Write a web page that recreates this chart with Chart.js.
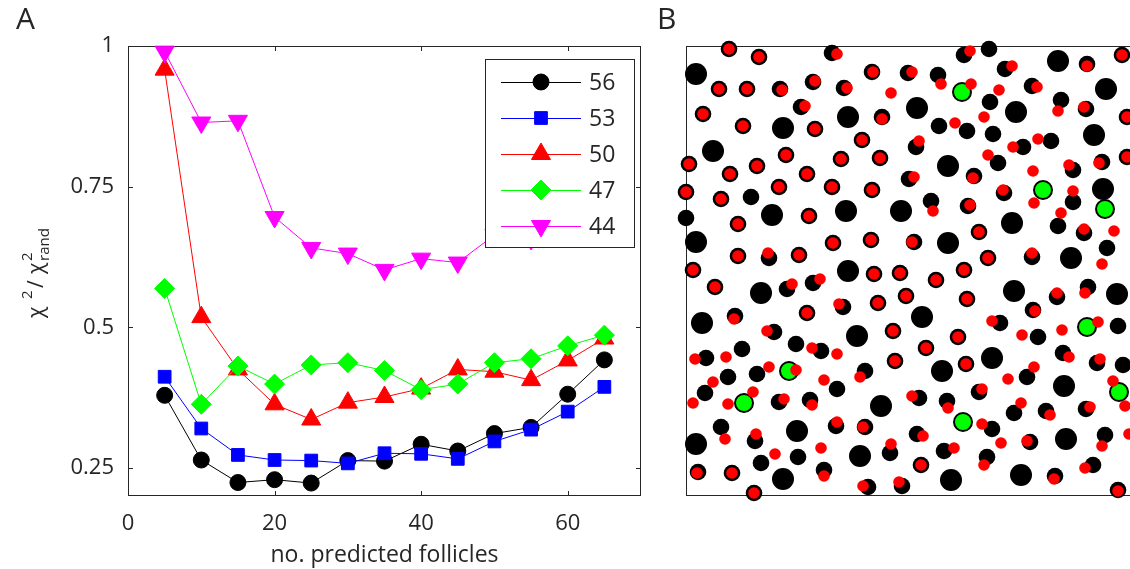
<!DOCTYPE html>
<html>
<head>
<meta charset="utf-8">
<script src="https://cdn.jsdelivr.net/npm/chart.js@4/dist/chart.umd.min.js"></script>
<style>
    html, body { margin: 0; padding: 0; background: #fff; }
    body { width: 1130px; height: 569px; overflow: hidden; position: relative; }
    #chartA { position: absolute; left: 0; top: 0; }
    #chartB { position: absolute; left: 640px; top: 0; }
</style>
</head>
<body>
<canvas id="chartA" width="660" height="569"></canvas>
<canvas id="chartB" width="510" height="569"></canvas>
<script>
// Panel A data
const follicles = [5, 10, 15, 20, 25, 30, 35, 40, 45, 50, 55, 60, 65];
const ratio56 = [0.379, 0.264, 0.224, 0.229, 0.223, 0.263, 0.262, 0.292, 0.280, 0.311, 0.322, 0.381, 0.442];
const ratio53 = [0.412, 0.320, 0.273, 0.264, 0.263, 0.258, 0.276, 0.275, 0.266, 0.297, 0.318, 0.350, 0.394];
const ratio50 = [0.958, 0.518, 0.425, 0.363, 0.336, 0.366, 0.376, 0.391, 0.425, 0.421, 0.406, 0.441, 0.480];
const ratio47 = [0.569, 0.363, 0.431, 0.399, 0.433, 0.437, 0.423, 0.389, 0.399, 0.437, 0.444, 0.467, 0.486];
const ratio44 = [0.990, 0.864, 0.867, 0.696, 0.641, 0.631, 0.602, 0.622, 0.615, 0.664, 0.657, 0.680, 0.700];
const seriesNames = ['56', '53', '50', '47', '44'];
const xTicks = [0, 20, 40, 60];
const yTicks = [0.25, 0.5, 0.75, 1];

// Panel B data (field units, y measured downward from the top edge)
const largeFollicles = [
    [10, 28], [162, 71], [97, 82], [27, 105], [86, 169], [160, 165], [215, 165], [10, 196], [162, 225],
    [372, 15], [420, 43], [231, 62], [330, 66], [408, 89], [262, 120], [417, 143], [326, 177], [262, 197], [385, 212],
    [75, 247], [16, 277], [171, 290], [195, 360], [111, 385], [10, 398], [174, 410], [97, 433],
    [328, 245], [431, 248], [236, 271], [306, 312], [256, 325], [378, 340], [380, 393], [335, 429], [265, 434]
];
const smallFollicles = [
    [43, 3], [73, 11], [146, 7], [186, 26], [33, 43], [61, 43], [94, 43], [127, 36], [158, 42], [115, 61],
    [17, 68], [196, 71], [57, 80], [129, 83], [176, 94], [100, 109], [155, 113], [194, 112], [3, 118], [71, 120],
    [44, 128], [121, 128], [0, 146], [93, 141], [146, 141], [186, 144], [35, 153], [65, 151], [123, 170], [0, 172],
    [52, 178], [147, 197], [185, 194], [52, 210], [83, 212], [113, 209], [7, 224], [188, 228], [214, 227],
    [278, 9], [303, 3], [401, 18], [436, 9], [222, 27], [252, 29], [319, 23], [346, 40], [304, 56], [375, 54],
    [400, 63], [441, 71], [253, 80], [281, 85], [307, 88], [230, 101], [337, 101], [365, 95], [312, 117], [387, 124],
    [416, 116], [441, 111], [223, 133], [288, 130], [318, 147], [387, 156], [245, 155], [282, 160], [372, 180], [398, 187],
    [293, 186], [228, 196], [302, 212], [346, 211], [421, 202], [278, 224],
    [29, 241], [101, 243], [127, 237], [157, 261], [121, 267], [192, 257], [220, 250], [49, 270], [88, 286], [207, 285],
    [56, 303], [110, 298], [135, 305], [20, 312], [209, 315], [42, 331], [71, 328], [179, 325], [19, 347], [93, 356],
    [124, 354], [151, 343], [35, 381], [150, 380], [179, 381], [69, 395], [112, 411], [204, 407], [75, 417], [12, 426],
    [46, 427], [138, 424], [68, 447], [182, 441], [216, 440],
    [250, 234], [281, 253], [371, 251], [402, 241], [314, 277], [347, 264], [432, 280], [352, 291], [272, 291], [240, 302],
    [377, 307], [411, 317], [437, 319], [280, 318], [341, 331], [233, 352], [261, 355], [293, 346], [306, 383], [328, 367],
    [360, 365], [400, 363], [231, 388], [258, 405], [344, 396], [419, 389], [235, 419], [301, 411], [369, 430], [407, 419],
    [432, 444]
];
const greenMarks = [[276, 46], [357, 144], [419, 163], [103, 325], [58, 357], [401, 281], [433, 346], [277, 376]];
const redMarks = [
    [43, 3], [73, 11], [151, 8], [187, 26], [33, 43], [61, 43], [96, 44], [129, 35], [161, 42], [205, 47],
    [119, 60], [17, 68], [196, 73], [57, 80], [129, 83], [176, 94], [100, 109], [155, 113], [194, 112], [3, 118],
    [71, 120], [44, 128], [121, 128], [0, 146], [93, 141], [146, 141], [186, 144], [35, 153], [123, 170], [52, 178],
    [147, 197], [185, 194], [52, 210], [82, 207], [113, 209], [7, 224], [188, 228], [214, 227],
    [284, 5], [401, 20], [436, 9], [226, 26], [255, 38], [326, 20], [285, 38], [313, 44], [351, 41], [372, 65],
    [398, 61], [441, 71], [269, 77], [298, 71], [233, 95], [327, 101], [352, 93], [302, 109], [383, 119], [413, 117],
    [441, 111], [228, 131], [287, 132], [347, 125], [317, 144], [348, 157], [387, 145], [247, 165], [284, 159], [375, 167],
    [398, 183], [428, 185], [293, 186], [226, 196], [302, 212], [346, 207], [416, 218], [278, 224],
    [29, 241], [106, 238], [134, 233], [153, 258], [121, 267], [192, 257], [220, 250], [48, 273], [81, 285], [207, 285],
    [126, 302], [151, 308], [9, 313], [40, 311], [209, 315], [83, 321], [110, 324], [27, 336], [174, 331], [138, 334],
    [7, 357], [67, 346], [42, 358], [98, 353], [126, 359], [39, 393], [151, 376], [177, 381], [70, 388], [89, 408],
    [135, 402], [205, 398], [11, 427], [46, 427], [138, 430], [68, 447], [177, 440], [213, 436],
    [250, 234], [281, 253], [371, 247], [399, 247], [306, 275], [349, 265], [412, 276], [336, 289], [376, 284], [272, 291],
    [240, 302], [383, 311], [414, 313], [280, 318], [348, 321], [322, 333], [427, 335], [439, 360], [226, 350], [262, 362],
    [296, 343], [296, 378], [335, 357], [364, 369], [404, 361], [237, 390], [268, 402], [315, 397], [341, 395], [416, 400],
    [443, 388], [235, 419], [298, 419], [368, 433], [399, 422], [432, 445]
];

const ink = '#262626';
Chart.defaults.font.family = "'Open Sans', sans-serif";
Chart.defaults.color = ink;

const toPoints = list => list.map(([x, y]) => ({ x, y }));

function makeSeries(label, values, color, style, radius, rotation, order) {
    return {
        label: label,
        data: follicles.map((f, i) => ({ x: f, y: values[i] })),
        showLine: true,
        borderColor: color,
        borderWidth: 1,
        pointStyle: style,
        pointRadius: radius,
        pointRotation: rotation,
        pointBackgroundColor: color,
        pointBorderColor: color,
        pointBorderWidth: 1,
        order: order,
        clip: false
    };
}

// Box, inside ticks, legend and labels for panel A
const panelA = {
    id: 'panelA',
    beforeDatasetsDraw(chart) {
        const { ctx, chartArea: a, scales: { x, y } } = chart;
        ctx.save();
        ctx.strokeStyle = ink;
        ctx.lineWidth = 1;
        ctx.strokeRect(a.left + 0.5, a.top + 0.5, a.right - a.left - 1, a.bottom - a.top - 1);
        ctx.beginPath();
        xTicks.forEach(v => {
            const px = Math.round(x.getPixelForValue(v)) + 0.5;
            ctx.moveTo(px, a.bottom); ctx.lineTo(px, a.bottom - 5);
            ctx.moveTo(px, a.top); ctx.lineTo(px, a.top + 5);
        });
        yTicks.forEach(v => {
            const py = Math.round(y.getPixelForValue(v)) + 0.5;
            ctx.moveTo(a.left, py); ctx.lineTo(a.left + 5, py);
            ctx.moveTo(a.right, py); ctx.lineTo(a.right - 5, py);
        });
        ctx.stroke();
        ctx.restore();
    },
    afterDatasetsDraw(chart) {
        const ctx = chart.ctx;
        ctx.save();
        ctx.fillStyle = '#fff';
        ctx.fillRect(485, 59, 149, 188);
        ctx.strokeStyle = ink;
        ctx.lineWidth = 1;
        ctx.strokeRect(485.5, 59.5, 149, 188);
        chart.data.datasets.forEach((ds, i) => {
            const ly = 82 + i * 36;
            ctx.strokeStyle = ds.borderColor;
            ctx.fillStyle = ds.pointBackgroundColor;
            ctx.beginPath();
            ctx.moveTo(501, ly + 0.5);
            ctx.lineTo(581, ly + 0.5);
            ctx.stroke();
            Chart.helpers.drawPoint(ctx, {
                pointStyle: ds.pointStyle,
                rotation: ds.pointRotation,
                radius: ds.pointRadius,
                borderWidth: 1
            }, 541, ly);
            ctx.fillStyle = ink;
            ctx.font = "23px 'Open Sans'";
            ctx.textBaseline = 'middle';
            ctx.textAlign = 'left';
            ctx.fillText(ds.label, 589, ly + 1);
        });
        ctx.restore();
    },
    afterDraw(chart) {
        const ctx = chart.ctx;
        ctx.save();
        ctx.fillStyle = ink;
        ctx.textBaseline = 'alphabetic';
        ctx.font = "30px 'Open Sans'";
        ctx.fillText('A', 16, 29);
        // y axis title: chi^2 / chi^2_rand
        ctx.translate(43, 318);
        ctx.rotate(-Math.PI / 2);
        ctx.font = "21px 'Open Sans'";
        ctx.fillText('\u03c7', 0, 0);
        ctx.fillText('/', 30, 0);
        ctx.fillText('\u03c7', 44, 0);
        ctx.font = "15px 'Open Sans'";
        ctx.fillText('2', 19, -11);
        ctx.fillText('2', 57, -11);
        ctx.fillText('rand', 57, 6);
        ctx.restore();
    }
};

new Chart(document.getElementById('chartA'), {
    type: 'scatter',
    data: {
        datasets: [
            makeSeries(seriesNames[0], ratio56, '#000000', 'circle', 8, 0, 4),
            makeSeries(seriesNames[1], ratio53, '#0000ff', 'rect', 9, 0, 3),
            makeSeries(seriesNames[2], ratio50, '#ff0000', 'triangle', 11, 0, 2),
            makeSeries(seriesNames[3], ratio47, '#00ff00', 'rectRot', 10, 0, 1),
            makeSeries(seriesNames[4], ratio44, '#ff00ff', 'triangle', 11, 180, 0)
        ]
    },
    options: {
        responsive: false,
        animation: false,
        events: [],
        layout: { padding: { top: 46, right: 19, left: 0, bottom: 0 } },
        plugins: { legend: { display: false }, tooltip: { enabled: false } },
        scales: {
            x: {
                type: 'linear',
                min: 0,
                max: 70,
                grid: { display: false, drawTicks: false },
                border: { display: false },
                afterBuildTicks: s => { s.ticks = xTicks.map(v => ({ value: v })); },
                afterFit: s => { s.height = 73; },
                ticks: { padding: 15, font: { size: 22 }, callback: v => String(v) },
                title: {
                    display: true,
                    text: 'no. predicted follicles',
                    font: { size: 23 },
                    padding: { top: 0, bottom: 0 }
                }
            },
            y: {
                type: 'linear',
                min: 0.2,
                max: 1,
                grid: { display: false, drawTicks: false },
                border: { display: false },
                afterBuildTicks: s => { s.ticks = yTicks.map(v => ({ value: v })); },
                afterFit: s => { s.width = 128; },
                ticks: { padding: 14, font: { size: 22 }, callback: v => String(v) }
            }
        }
    },
    plugins: [panelA]
});

// Frame and letter for panel B
const panelB = {
    id: 'panelB',
    beforeDatasetsDraw(chart) {
        const { ctx, chartArea: a } = chart;
        ctx.save();
        ctx.strokeStyle = ink;
        ctx.lineWidth = 1;
        ctx.strokeRect(a.left + 0.5, a.top + 0.5, a.right - a.left - 1, a.bottom - a.top - 1);
        ctx.restore();
    },
    afterDraw(chart) {
        const ctx = chart.ctx;
        ctx.save();
        ctx.fillStyle = ink;
        ctx.font = "30px 'Open Sans'";
        ctx.textBaseline = 'alphabetic';
        ctx.fillText('B', 17, 29);
        ctx.restore();
    }
};

function dots(list, color, radius, order, edge) {
    return {
        data: toPoints(list),
        pointRadius: radius,
        pointBackgroundColor: color,
        pointBorderColor: edge || color,
        pointBorderWidth: edge ? 2 : 0,
        order: order,
        clip: false
    };
}

new Chart(document.getElementById('chartB'), {
    type: 'scatter',
    data: {
        datasets: [
            dots(redMarks, '#ff0000', 5.8, 0),
            dots(greenMarks, '#00ff00', 9, 1, '#000000'),
            dots(smallFollicles, '#000000', 8.3, 2),
            dots(largeFollicles, '#000000', 11, 3)
        ]
    },
    options: {
        responsive: false,
        animation: false,
        events: [],
        layout: { padding: { top: 46, right: 14, left: 46, bottom: 73 } },
        plugins: { legend: { display: false }, tooltip: { enabled: false } },
        scales: {
            x: { type: 'linear', min: 0, max: 450, display: false },
            y: { type: 'linear', min: 0, max: 450, reverse: true, display: false }
        }
    },
    plugins: [panelB]
});
</script>
</body>
</html>
